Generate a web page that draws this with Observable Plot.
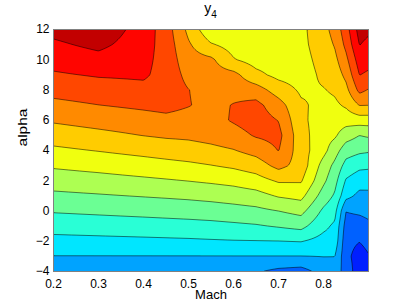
<!DOCTYPE html>
<html>
<head>
<meta charset="utf-8">
<script src="https://cdn.jsdelivr.net/npm/d3@7"></script>
<script src="https://cdn.jsdelivr.net/npm/@observablehq/plot@0.6"></script>
<style>
  html, body { margin: 0; padding: 0; background: #fff; }
  body { font-family: "Liberation Sans", Arial, sans-serif; width: 407px; height: 306px; overflow: hidden; }
  #title { margin-left: 53px; width: 315px; height: 22px; text-align: center; font-size: 14px; line-height: 16px; color: #000; }
  #title sub { font-size: 10px; vertical-align: -5px; line-height: 0; }
</style>
</head>
<body>
<div id="title">y<sub>4</sub></div>
<div id="chart"></div>
<script>
// Mach grid (columns) and alpha grid (rows)
const mach = [0.2, 0.3, 0.4, 0.45, 0.5, 0.55, 0.6, 0.65, 0.7, 0.75, 0.8, 0.825, 0.85, 0.88, 0.9];
const alpha = [12, 11, 10, 9, 8, 7, 6, 5, 4, 3, 2, 1, 0, -1, -2, -3, -4];

// y4 values (in contour-level units), one row per alpha
const z_a12 = [12.3, 12.7, 11.55, 10.5, 8.75, 7.2, 7.3, 7.2, 7.2, 7.75, 8.68, 9.36, 10.58, 12.4, 12.2];
const z_a11 = [11.82, 12.24, 11.45, 10.55, 9.13, 8.1, 7.6, 7.35, 7.3, 7.75, 8.5, 9.08, 10.25, 12.03, 11.75];
const z_a10 = [11.36, 11.67, 11.3, 10.6, 9.42, 9.2, 8.07, 7.6, 7.5, 7.65, 8.35, 8.75, 9.75, 11.5, 11.34];
const z_a9  = [10.88, 11.09, 11.15, 10.62, 9.71, 9.45, 9.3, 8.27, 7.72, 7.55, 8.2, 8.45, 9.25, 11.02, 10.84];
const z_a8  = [10.32, 10.54, 10.73, 10.55, 10.02, 9.6, 9.65, 9.45, 8.54, 7.85, 7.95, 8.15, 8.72, 10.27, 9.93];
const z_a7  = [9.74, 9.99, 10.19, 10.3, 10.05, 9.7, 10.05, 10.3, 9.4, 8.15, 7.7, 7.81, 8.15, 9.04, 9.02];
const z_a6  = [9.12, 9.38, 9.61, 9.74, 9.63, 9.65, 10.1, 10.5, 9.97, 8.2, 7.55, 7.5, 7.4, 7.5, 7.5];
const z_a5  = [8.47, 8.73, 9.02, 9.14, 9.19, 9.35, 9.6, 10.1, 10.3, 8.37, 7.4, 7.15, 6.45, 6.0, 6.14];
const z_a4  = [7.8, 8.04, 8.29, 8.43, 8.57, 8.74, 8.95, 9.35, 10.03, 8.45, 7.3, 6.43, 5.45, 5.2, 5.12];
const z_a3  = [7.13, 7.33, 7.56, 7.68, 7.8, 7.97, 8.17, 8.49, 9.3, 8.6, 6.6, 5.75, 4.65, 4.25, 4.19];
const z_a2  = [6.46, 6.62, 6.81, 6.91, 7.02, 7.15, 7.3, 7.58, 8.12, 8.1, 6.2, 5.33, 3.9, 3.4, 3.4];
const z_a1  = [5.78, 5.91, 6.05, 6.12, 6.2, 6.31, 6.45, 6.63, 7.09, 7.29, 5.55, 4.87, 3.3, 2.75, 2.76];
const z_a0  = [5.08, 5.19, 5.3, 5.36, 5.42, 5.5, 5.62, 5.75, 6.0, 6.31, 4.8, 4.31, 2.03, 2.15, 2.26];
const z_am1 = [4.38, 4.46, 4.55, 4.6, 4.65, 4.71, 4.8, 4.9, 5.08, 5.29, 4.24, 3.82, 1.6, 1.6, 1.8];
const z_am2 = [3.69, 3.74, 3.79, 3.82, 3.85, 3.9, 3.94, 3.96, 3.98, 4.04, 3.64, 3.6, 1.35, 1.03, 1.35];
const z_am3 = [2.97, 2.97, 2.97, 2.97, 2.97, 2.97, 2.97, 2.97, 2.97, 2.97, 3.02, 3.01, 1.3, 0.5, 0.92];
const z_am4 = [2.3, 2.27, 2.25, 2.22, 2.2, 2.2, 2.15, 2.1, 1.75, 1.6, 2.4, 2.5, 1.6, 0.4, 0.5];
const zRows = [z_a12, z_a11, z_a10, z_a9, z_a8, z_a7, z_a6, z_a5, z_a4, z_a3, z_a2, z_a1, z_a0, z_am1, z_am2, z_am3, z_am4];

// contour levels and jet band colours
const levels = [1, 2, 3, 4, 5, 6, 7, 8, 9, 10, 11, 12];
const bandColors = ["#001FFF", "#0061FF", "#00A3FF", "#00E6FF", "#29FFD6", "#6BFF94", "#ADFF52",
                    "#F0FF0F", "#FFCC00", "#FF8A00", "#FF4700", "#FF0500", "#C20000"];
const xTicks = [0.2, 0.3, 0.4, 0.5, 0.6, 0.7, 0.8];
const yTicks = [-4, -2, 0, 2, 4, 6, 8, 10, 12];

const points = alpha.flatMap((a, i) => mach.map((m, j) => ({m, a, z: zRows[i][j]})));

// Rectilinear-grid (bilinear) interpolator handed to Plot's contour mark
function gridInterpolate(index, width, height, X, Y, V) {
  const xs = Array.from(new Set(Array.from(index, (i) => X[i]))).sort((a, b) => a - b);
  const ys = Array.from(new Set(Array.from(index, (i) => Y[i]))).sort((a, b) => a - b);
  const g = new Map();
  for (const i of index) g.set(X[i] + "," + Y[i], V[i]);
  const val = (xi, yi) => g.get(xs[xi] + "," + ys[yi]);
  const find = (arr, v) => {
    let k = 0;
    while (k < arr.length - 2 && v > arr[k + 1]) k++;
    return k;
  };
  const out = new Float64Array(width * height);
  for (let py = 0; py < height; ++py) {
    const y = py + 0.5;
    const yi = find(ys, y);
    const ty = Math.max(0, Math.min(1, (y - ys[yi]) / (ys[yi + 1] - ys[yi])));
    for (let px = 0; px < width; ++px) {
      const x = px + 0.5;
      const xi = find(xs, x);
      const tx = Math.max(0, Math.min(1, (x - xs[xi]) / (xs[xi + 1] - xs[xi])));
      const v00 = val(xi, yi), v10 = val(xi + 1, yi), v01 = val(xi, yi + 1), v11 = val(xi + 1, yi + 1);
      out[py * width + px] = (v00 * (1 - tx) + v10 * tx) * (1 - ty) + (v01 * (1 - tx) + v11 * tx) * ty;
    }
  }
  return out;
}

const chart = Plot.plot({
  width: 407,
  height: 284,
  marginTop: 7,
  marginLeft: 53,
  marginRight: 39,
  marginBottom: 35,
  style: {fontFamily: "Liberation Sans, Arial, sans-serif", fontSize: "12px", color: "#000", background: "#fff"},
  x: {domain: [0.2, 0.9], ticks: xTicks, tickSize: 0, tickPadding: 8, tickFormat: d3.format(".1f"), label: null},
  y: {domain: [-4, 12], ticks: yTicks, tickSize: 0, tickPadding: 4, tickFormat: d3.format("d"), label: null},
  color: {type: "threshold", domain: levels, range: bandColors},
  marks: [
    Plot.contour(points, {x: "m", y: "a", fill: "z", thresholds: [0, ...levels], interpolate: gridInterpolate, pixelSize: 1}),
    Plot.contour(points, {x: "m", y: "a", value: "z", thresholds: levels, interpolate: gridInterpolate, pixelSize: 1,
                          fill: "none", stroke: "#000", strokeWidth: 0.6, strokeOpacity: 0.85}),
    Plot.frame({stroke: "#808080"}),
    Plot.text(["alpha"], {frameAnchor: "left", rotate: -90, dx: -30, dy: -4, fontSize: 12}),
    Plot.text(["Mach"], {frameAnchor: "bottom", dy: 27, fontSize: 13})
  ]
});
d3.select(chart).selectAll("text").filter(function () { return this.textContent === "alpha"; })
  .attr("textLength", 38).attr("lengthAdjust", "spacingAndGlyphs");
document.getElementById("chart").appendChild(chart);
</script>
</body>
</html>
